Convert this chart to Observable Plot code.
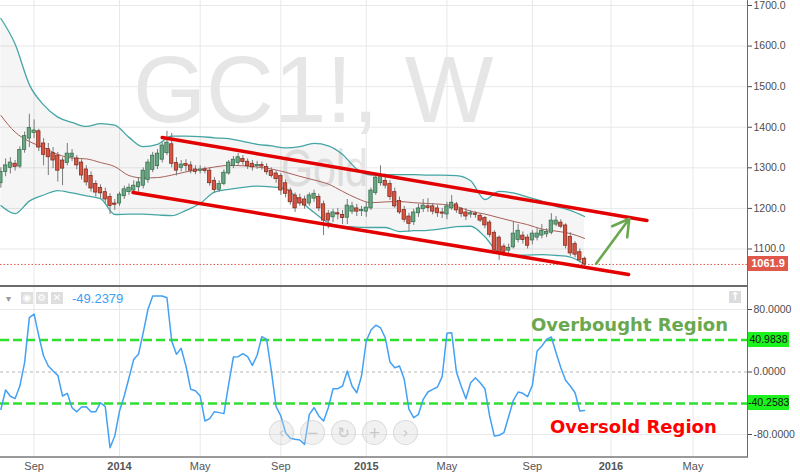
<!DOCTYPE html>
<html>
<head>
<meta charset="utf-8">
<script src="https://cdn.jsdelivr.net/npm/d3@7"></script>
<script src="https://cdn.jsdelivr.net/npm/@observablehq/plot@0.6"></script>
<style>
html,body{margin:0;padding:0;background:#fff;}
#wrap{position:relative;width:800px;height:476px;overflow:hidden;background:#fff;font-family:"Liberation Sans",Arial,sans-serif;}
#wrap > *{position:absolute;}
</style>
</head>
<body>
<div id="wrap"></div>
<script>
// ---------- DATA ----------
const firstWeek = "2013-07-15";   // Monday of first visible weekly bar
const lastWeek  = "2015-11-23";   // Monday of last weekly bar

const open  = [1262,1290,1300,1310,1303,1344,1372,1386,1390,1360,1346,1336,1330,1318,1312,1326,1323,1313,1296,1280,
               1260,1250,1240,1228,1212,1212,1230,1240,1244,1252,1256,1270,1295,1304,1320,1336,1358,1312,1300,1308,
               1306,1296,1292,1296,1293,1268,1246,1260,1286,1304,1312,1322,1315,1310,1304,1307,1302,1292,1286,1280,
               1262,1244,1232,1225,1222,1212,1224,1228,1210,1187,1178,1188,1184,1177,1192,1200,1193,1192,1200,1238,
               1262,1268,1260,1240,1218,1196,1180,1166,1188,1198,1204,1205,1200,1190,1185,1200,1210,1198,1190,1186,
               1187,1182,1176,1165,1140,1128,1106,1096,1104,1122,1133,1128,1121,1128,1133,1136,1140,1160,1165,1158,
               1130,1112,1092,1076];
const high  = [1300,1322,1325,1318,1352,1388,1432,1418,1395,1372,1360,1350,1338,1325,1360,1345,1330,1320,1305,1290,
               1268,1258,1250,1236,1222,1240,1255,1260,1268,1275,1300,1320,1338,1345,1362,1390,1385,1325,1318,1320,
               1315,1305,1305,1302,1300,1276,1268,1295,1318,1328,1335,1330,1322,1318,1316,1314,1310,1300,1292,1286,
               1270,1250,1238,1235,1230,1238,1245,1235,1218,1195,1198,1200,1195,1222,1215,1210,1205,1215,1250,1285,
               1305,1285,1268,1250,1228,1205,1188,1198,1210,1222,1224,1212,1208,1200,1215,1232,1215,1202,1200,1195,
               1192,1186,1180,1170,1145,1132,1112,1112,1168,1160,1142,1135,1145,1150,1160,1150,1187,1180,1172,1162,
               1140,1118,1100,1080];
const low   = [1250,1278,1285,1292,1298,1336,1350,1372,1340,1305,1281,1298,1265,1256,1305,1315,1295,1270,1255,1240,
               1228,1225,1212,1185,1195,1205,1222,1232,1236,1240,1248,1262,1288,1296,1312,1330,1300,1280,1290,1290,
               1285,1283,1285,1285,1255,1238,1240,1256,1282,1298,1306,1306,1296,1292,1296,1294,1282,1275,1262,1232,
               1226,1208,1190,1205,1198,1205,1215,1192,1133,1150,1165,1172,1160,1160,1185,1180,1180,1178,1195,1232,
               1255,1248,1220,1200,1185,1165,1142,1158,1178,1190,1190,1184,1178,1175,1172,1195,1188,1178,1170,1176,
               1176,1165,1150,1128,1092,1072,1082,1085,1100,1115,1112,1100,1110,1120,1125,1128,1135,1155,1150,1100,
               1082,1078,1066,1056];
const close = [1290,1306,1313,1302,1344,1378,1398,1392,1350,1332,1326,1318,1293,1298,1335,1335,1306,1281,1264,1249,
               1239,1237,1222,1206,1209,1234,1247,1251,1256,1264,1293,1313,1330,1335,1355,1362,1310,1293,1308,1306,
               1293,1290,1296,1292,1262,1245,1260,1288,1313,1320,1326,1314,1304,1301,1307,1303,1289,1280,1272,1244,
               1236,1215,1200,1212,1207,1232,1236,1200,1170,1170,1190,1185,1176,1207,1205,1192,1196,1202,1244,1276,
               1282,1256,1228,1205,1190,1172,1162,1190,1200,1207,1202,1192,1188,1187,1205,1214,1195,1186,1180,1187,
               1184,1170,1158,1135,1098,1089,1093,1103,1138,1145,1122,1108,1138,1138,1145,1142,1170,1170,1155,1108,
               1089,1086,1072,1061.9];

// oscillator (one value per weekly bar)
const osc = [-47.8,-23,-31,-34,-18,12,69.5,74,46,20.5,7.7,1.3,-4.3,-30.7,-27.3,-45.7,-51,-44.8,-44.4,-50.8,
             -50.8,-39.3,-44.4,-96.9,-82,-50,-30.7,-7.3,16.2,22.6,50.3,80.3,97.3,97.3,97.3,95,39.7,22.6,30.3,7.7,
             -22,-23.9,-30.7,-62.7,-59.7,-50.8,-52,-53.3,-15.8,19.2,19.6,23.5,19.6,8.5,21.4,45.2,41.8,1.3,-44.4,-56.3,
             -77.7,-84.9,-86.2,-87,-92.6,-54.2,-45.7,-56.3,-62.7,-45.7,-21.4,-21.4,-17.9,1.3,-17.9,-26.5,-5.1,39.7,53.8,59.8,
             56.7,43.9,12.8,5.5,7.7,-9.4,-47.8,-58.5,-54.2,-35,-25.6,-22.2,-19.2,-6,49.5,50.3,0,-17.9,-34.2,-13.7,
             -7.3,-13.7,-21.4,-56.3,-82,-81,-77.7,-57.2,-36.2,-25.6,-27.3,-31.6,-17,26.9,33.3,41.8,44.8,24.7,5.5,-10.6,
             -17.9,-26.5,-49.9,-49.2379];

// Bollinger band, read every third bar (bar number, 1-based)
const bandBar   = [1,4,7,10,13,16,19,22,25,28,31,34,37,40,43,46,49,52,55,58,61,64,67,70,73,76,79,82,85,88,91,94,97,100,103,106,109,112,115,118,121,124];
const bandUpper = [1668,1605,1505,1455,1425,1412,1402,1409,1405,1375,1352,1358,1378,1378,1377,1374,1372,1365,1358,1354,1349,1352,1360,1354,1333,1297,1282,1283,1283,1283,1282,1282,1281,1268,1222,1242,1238,1228,1218,1205,1195,1180];
const bandLower = [1207,1187,1218,1233,1244,1238,1231,1224,1185,1186,1186,1184,1182,1195,1212,1240,1247,1252,1255,1253,1248,1219,1190,1165,1156,1154,1153,1153,1143,1145,1146,1150,1155,1156,1130,1090,1084,1085,1086,1084,1080,1062];
const bandMid   = [1429,1388,1365,1350,1333,1324,1322,1313,1303,1281,1275,1276,1282,1290,1296,1302,1306,1305,1302,1297,1289,1279,1270,1260,1242,1225,1214,1216,1217,1214,1212,1210,1205,1193,1186,1177,1168,1160,1149,1144,1138,1126];

// trend channel and arrow annotations
const channelUpper = [{date:"2014-03-10", price:1374.7}, {date:"2016-02-23", price:1170.2}];
const channelLower = [{date:"2014-01-26", price:1239.2}, {date:"2016-01-27", price:1037.2}];
const arrowPts = [{date1:"2015-12-10", price1:1063.5, date2:"2016-01-28", price2:1174.4}];
const lastPrice = 1061.9;

// ticks
const priceTicks = [1100,1200,1300,1400,1500,1600,1700];
const oscTicks = [-80, 0, 80];
const oscLevels = [40.9838, -40.2583];
const oscLast = -49.2379;
const tickDates  = ["2013-09-02","2014-01-06","2014-05-05","2014-09-01","2015-01-05","2015-05-04","2015-09-07","2016-01-01","2016-05-01"];
const tickLabels = ["Sep","2014","May","Sep","2015","May","Sep","2016","May"];
const regionLabels = [
  {label:"Overbought Region", date:"2015-09-05", value:59.5, color:"#6aa84f"},
  {label:"Oversold Region",   date:"2015-10-03", value:-70.4, color:"#ff0000"}
];

// ---------- TABLES ----------
const weeks = d3.utcMonday.range(new Date(firstWeek), d3.utcDay.offset(new Date(lastWeek), 1));
const candles = weeks.map((d,i)=>({date:d, open:open[i], high:high[i], low:low[i], close:close[i]}));
const oscData = weeks.map((d,i)=>({date:d, value:osc[i]}));
const bands = bandBar.map((b,i)=>({date:weeks[b-1], upper:bandUpper[i], lower:bandLower[i], mid:bandMid[i]}));
const ticks = tickDates.map((d,i)=>({date:new Date(d), label:tickLabels[i], year:/^\d{4}$/.test(tickLabels[i])}));
const parse = s => new Date(s);
const halfBody = 2.5*864e5;
const bodyLo = d => Math.min(d.open,d.close) - (Math.abs(d.open-d.close) < 2.5 ? 1.2 : 0);
const bodyHi = d => Math.max(d.open,d.close) + (Math.abs(d.open-d.close) < 2.5 ? 1.2 : 0);

const xDomain = [new Date("2013-07-14T10:48:00Z"), new Date("2016-07-20T09:00:00Z")];
const font = "'Liberation Sans', Arial, sans-serif";
const gridColor = "#e8e8e8";

// ---------- TOP PANEL ----------
const topPlot = Plot.plot({
  width: 800, height: 287,
  marginLeft: 0, marginRight: 53, marginTop: 0, marginBottom: 0,
  style: {background:"transparent", fontFamily:font, fontSize:"10.5px", color:"#4d4d4d", overflow:"visible"},
  x: {type:"utc", domain:xDomain, axis:null},
  y: {domain:[1005.1, 1712.3], axis:"right", ticks:priceTicks, tickFormat:d=>d.toFixed(1), tickSize:4, tickPadding:2, label:null},
  marks: [
    Plot.ruleY(priceTicks, {stroke:gridColor}),
    Plot.ruleX(ticks, {x:"date", stroke:gridColor}),
    Plot.areaY(bands, {x:"date", y1:"lower", y2:"upper", fill:"#000", fillOpacity:0.04, curve:"monotone-x", clip:true}),
    Plot.line(bands, {x:"date", y:"upper", stroke:"#45a5a5", strokeWidth:1.3, curve:"monotone-x", clip:true}),
    Plot.line(bands, {x:"date", y:"lower", stroke:"#45a5a5", strokeWidth:1.3, curve:"monotone-x", clip:true}),
    Plot.line(bands, {x:"date", y:"mid", stroke:"#a8605a", strokeWidth:1, curve:"monotone-x", clip:true}),
    Plot.ruleY([lastPrice], {stroke:"#e0584a", strokeWidth:1, strokeDasharray:"1.5,2"}),
    Plot.ruleX(candles, {x:"date", y1:"low", y2:"high", stroke:"#7a7a7c", strokeWidth:1, clip:true}),
    Plot.rect(candles.filter(d=>d.close>=d.open), {x1:d=>new Date(+d.date-halfBody), x2:d=>new Date(+d.date+halfBody), y1:bodyLo, y2:bodyHi, fill:"#6ba583", stroke:"#2e6b46", strokeWidth:0.7, clip:true}),
    Plot.rect(candles.filter(d=>d.close<d.open), {x1:d=>new Date(+d.date-halfBody), x2:d=>new Date(+d.date+halfBody), y1:bodyLo, y2:bodyHi, fill:"#d75442", stroke:"#7a2418", strokeWidth:0.7, clip:true}),
    Plot.line(channelUpper, {x:d=>parse(d.date), y:"price", stroke:"#e30000", strokeWidth:3.5}),
    Plot.line(channelLower, {x:d=>parse(d.date), y:"price", stroke:"#e30000", strokeWidth:3.5}),
    Plot.arrow(arrowPts, {x1:d=>parse(d.date1), y1:"price1", x2:d=>parse(d.date2), y2:"price2", stroke:"#6aa84f", strokeWidth:2.6, headLength:12})
  ]
});

// ---------- BOTTOM PANEL ----------
const botPlot = Plot.plot({
  width: 800, height: 189,
  marginLeft: 0, marginRight: 53, marginTop: 0, marginBottom: 19,
  style: {background:"transparent", fontFamily:font, fontSize:"10.5px", color:"#4d4d4d", overflow:"visible"},
  x: {type:"utc", domain:xDomain, axis:null},
  y: {domain:[-109.44, 108.16], axis:"right", ticks:oscTicks, tickFormat:d=>d.toFixed(4), tickSize:4, tickPadding:2, label:null},
  marks: [
    Plot.ruleY([-80, 80], {stroke:gridColor}),
    Plot.ruleX(ticks, {x:"date", stroke:gridColor}),
    Plot.ruleY([0], {stroke:"#b5b5b5", strokeDasharray:"3,3"}),
    Plot.ruleY(oscLevels, {stroke:"#2fe02f", strokeWidth:2.5, strokeDasharray:"9,4"}),
    Plot.line(oscData, {x:"date", y:"value", stroke:"#42a1f4", strokeWidth:1.5}),
    Plot.text(regionLabels, {x:d=>parse(d.date), y:"value", text:"label", fill:"color", textAnchor:"start", lineAnchor:"middle",
      fontFamily:"'DejaVu Sans', Verdana, sans-serif", fontWeight:"bold", fontSize:18}),
    Plot.text(ticks.filter(d=>!d.year), {x:"date", text:"label", frameAnchor:"bottom", dy:9, lineAnchor:"middle", fontSize:11, fill:"#555"}),
    Plot.text(ticks.filter(d=>d.year), {x:"date", text:"label", frameAnchor:"bottom", dy:9, lineAnchor:"middle", fontSize:11, fontWeight:"bold", fill:"#555"})
  ]
});

// ---------- ASSEMBLY ----------
const wrap = document.getElementById("wrap");
function add(html, css){ const el=document.createElement("div"); el.innerHTML=html; Object.assign(el.style, css); wrap.appendChild(el); return el; }

// watermark behind the price panel
add(`<svg width="747" height="287" xmlns="http://www.w3.org/2000/svg">
  <text x="133" y="122" font-family="Liberation Sans, Arial, sans-serif" font-size="94" fill="#e6e6e6">GC1!, W</text>
  <text x="281" y="186" font-family="Liberation Sans, Arial, sans-serif" font-size="52" fill="#e6e6e6" textLength="87" lengthAdjust="spacingAndGlyphs">Gold</text>
</svg>`, {left:"0px", top:"0px", lineHeight:"0"});

topPlot.style.left = "0px"; topPlot.style.top = "0px"; topPlot.style.position = "absolute";
wrap.appendChild(topPlot);
botPlot.style.left = "0px"; botPlot.style.top = "287px"; botPlot.style.position = "absolute";
wrap.appendChild(botPlot);

// panel separators and axis line
add("", {left:"0px", top:"285px", width:"747px", height:"2px", background:"#6b6b6b"});
add("", {left:"0px", top:"456px", width:"748px", height:"1.5px", background:"#9a9a9a"});
add("", {left:"746.5px", top:"0px", width:"1px", height:"457px", background:"#6b6b6b"});

// last price tag
const yTop = topPlot.scale("y");
add(lastPrice.toFixed(1), {left:"748px", top:(yTop.apply(lastPrice)-7.5)+"px", width:"40px", height:"15px", background:"#e0584a",
  color:"#fff", fontWeight:"bold", fontSize:"11px", lineHeight:"15px", textAlign:"center"});

// oscillator level tags
const yBot = botPlot.scale("y");
oscLevels.forEach(v=>{
  add(v.toFixed(4), {left:"748px", top:(287+yBot.apply(v)-7.5)+"px", width:"41px", height:"15px", background:"#1cf21c",
    color:"#111", fontSize:"10.5px", lineHeight:"15px", textAlign:"center"});
});

// indicator legend
add("▾", {left:"6px", top:"293px", color:"#9a9a9a", fontSize:"10px"});
["◉","⚙","✕"].forEach((g,i)=>{
  add(g, {left:(21+i*15)+"px", top:"292px", width:"12px", height:"12px", background:"#dedede", color:"#fff",
    fontSize:"10px", lineHeight:"12px", textAlign:"center", fontFamily:"'DejaVu Sans',sans-serif"});
});
add(oscLast.toFixed(4), {left:"72px", top:"291px", color:"#3ca0f4", fontSize:"13px", lineHeight:"15px"});

// maximize icon
add("↑", {left:"729px", top:"291px", width:"12px", height:"12px", background:"#dcdcdc", color:"#fff",
  fontSize:"11px", lineHeight:"12px", textAlign:"center", fontWeight:"bold", fontFamily:"'DejaVu Sans',sans-serif"});

// navigation buttons
["‹","−","↻","+","›"].forEach((g,i)=>{
  add(g, {left:(269+i*31)+"px", top:"420px", width:"25px", height:"25px", borderRadius:"50%",
    background:"rgba(215,215,215,0.35)", border:"1px solid rgba(190,190,190,0.45)", color:"#c8c8c8",
    fontSize:"15px", lineHeight:"25px", textAlign:"center", fontFamily:"'DejaVu Sans',sans-serif", boxSizing:"border-box"});
});
</script>
</body>
</html>
